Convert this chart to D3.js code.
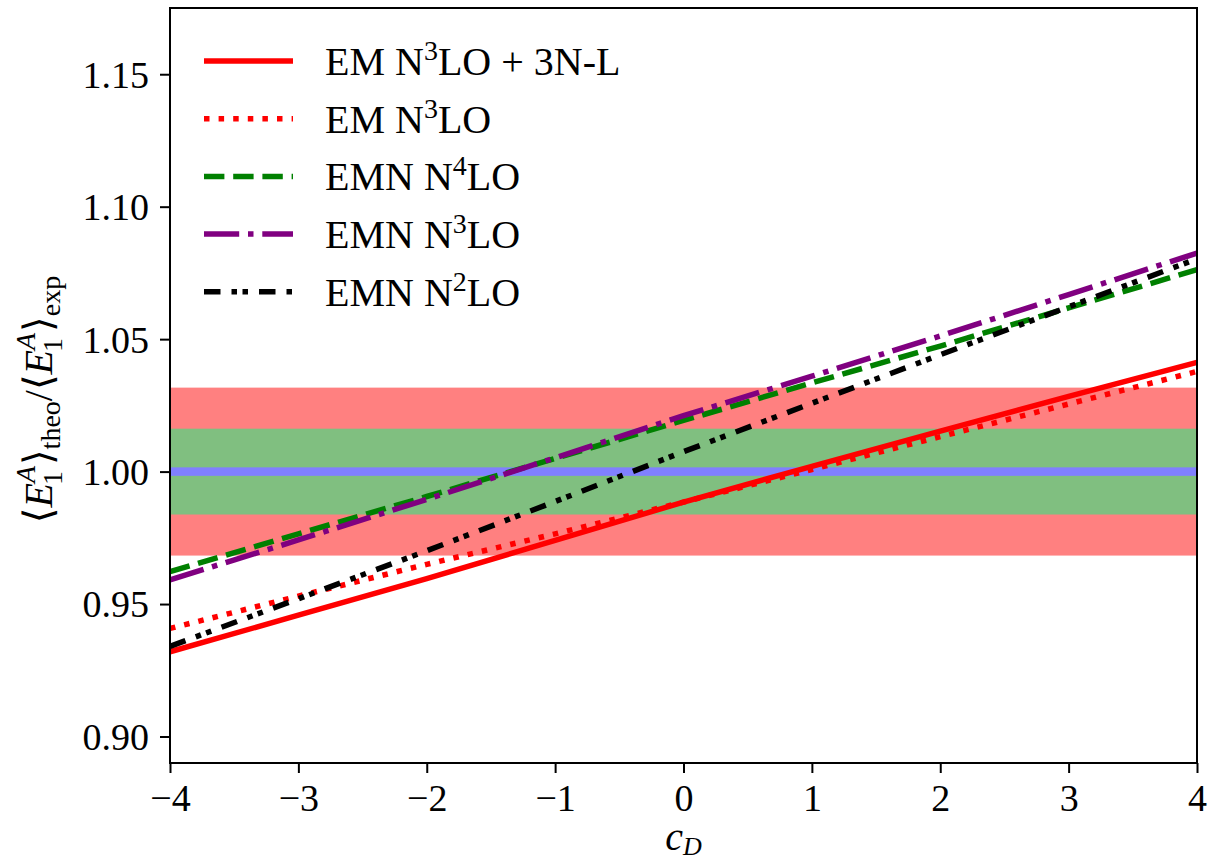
<!DOCTYPE html>
<html>
<head>
<meta charset="utf-8">
<script src="https://cdn.jsdelivr.net/npm/d3@7"></script>
<style>
  html, body { margin: 0; padding: 0; background: #fff; }
  svg { display: block; }
  svg text { font-family: "Liberation Serif", "DejaVu Serif", "Noto Serif", serif; fill: #000; }
</style>
</head>
<body>
<script>
// ---- data ----
const cD = [-4, -3, -2, -1, 0, 1, 2, 3, 4];
const emN3LO_3NL = [0.9320, 0.9458, 0.9596, 0.9740, 0.9885, 1.0020, 1.0153, 1.0284, 1.0412];
const emN3LO     = [0.9408, 0.9530, 0.9650, 0.9765, 0.9885, 1.0008, 1.0132, 1.0255, 1.0378];
const emnN4LO    = [0.9622, 0.9765, 0.9906, 1.0050, 1.0193, 1.0335, 1.0474, 1.0618, 1.0762];
const emnN3LO    = [0.9591, 0.9742, 0.9895, 1.0052, 1.0211, 1.0360, 1.0512, 1.0668, 1.0825];
const emnN2LO    = [0.9340, 0.9520, 0.9701, 0.9887, 1.0075, 1.0258, 1.0441, 1.0622, 1.0803];
const seriesNames = [["EM N", "3", "LO + 3N-L"], ["EM N", "3", "LO"], ["EMN N", "4", "LO"], ["EMN N", "3", "LO"], ["EMN N", "2", "LO"]];
const seriesColors = ["#ff0000", "#ff0000", "#008000", "#800080", "#000000"];
const seriesDashes = [null, "5.5,9.1", "20.4,8.8", "35.2,8.8,5.5,8.8", "16.5,11,5.5,5.5,5.5,11"];
const bandHalfWidths = [0.0317, 0.0162, 0.0016];
const bandColors = ["#ff8080", "#80bf80", "#8080ff"];
const xTicks = [-4, -3, -2, -1, 0, 1, 2, 3, 4];
const yTicks = [0.90, 0.95, 1.00, 1.05, 1.10, 1.15];

const allSeries = [emN3LO_3NL, emN3LO, emnN4LO, emnN3LO, emnN2LO];

// ---- layout ----
const W = 1208, H = 861;
const L = 170, R = 1197, T = 8, B = 763;
const FONT = '"Liberation Serif", "DejaVu Serif", "Noto Serif", serif';

const svg = d3.select("body").append("svg").attr("width", W).attr("height", H)
  .attr("font-family", FONT);

const x = d3.scaleLinear().domain([-4, 4]).range([L, R]);
const y = d3.scaleLinear().domain([0.89, 1.175]).range([B, T]);

// bands
bandHalfWidths.forEach((hw, i) => {
  svg.append("rect")
    .attr("x", L).attr("width", R - L)
    .attr("y", y(1 + hw)).attr("height", y(1 - hw) - y(1 + hw))
    .attr("fill", bandColors[i]);
});

// lines
const line = d3.line().x((d, i) => x(cD[i])).y(d => y(d));
allSeries.forEach((s, i) => {
  svg.append("path")
    .datum(s)
    .attr("d", line)
    .attr("fill", "none")
    .attr("stroke", seriesColors[i])
    .attr("stroke-width", 5.5)
    .attr("stroke-linecap", "butt")
    .attr("stroke-dasharray", seriesDashes[i]);
});

// axes
const fmtX = d3.format("d");
const xAxis = svg.append("g").attr("transform", `translate(0,${B})`)
  .call(d3.axisBottom(x).tickValues(xTicks).tickSize(10).tickPadding(8).tickFormat(d => fmtX(d)));
const yAxis = svg.append("g").attr("transform", `translate(${L},0)`)
  .call(d3.axisLeft(y).tickValues(yTicks).tickSize(10).tickPadding(11).tickFormat(d3.format(".2f")));
[xAxis, yAxis].forEach(g => {
  g.attr("font-family", FONT).attr("font-size", 38);
  g.select(".domain").remove();
  g.selectAll(".tick line").attr("stroke", "#000").attr("stroke-width", 2);
  g.selectAll(".tick text").attr("font-family", FONT).style("font-family", FONT).style("font-size", "38px").attr("fill", "#000");
});
xAxis.selectAll(".tick text").attr("dy", null).attr("y", 48);
yAxis.selectAll(".tick text").attr("dy", "0.34em");

// frame
svg.append("rect").attr("x", L).attr("y", T).attr("width", R - L).attr("height", B - T)
  .attr("fill", "none").attr("stroke", "#000").attr("stroke-width", 2);

// legend
const legY0 = 61, legDY = 57.7;
seriesNames.forEach((parts, i) => {
  const ly = legY0 + i * legDY;
  svg.append("line")
    .attr("x1", 204).attr("x2", 293).attr("y1", ly).attr("y2", ly)
    .attr("stroke", seriesColors[i]).attr("stroke-width", 5.5)
    .attr("stroke-dasharray", seriesDashes[i]);
  const t = svg.append("text").attr("x", 325).attr("y", ly + 14).style("font-size", "40px");
  t.append("tspan").text(parts[0]);
  t.append("tspan").attr("dy", -15).style("font-size", "28px").text(parts[1]);
  t.append("tspan").attr("dy", 15).text(parts[2]);
});

// x label
const xl = svg.append("text").attr("x", x(0)).attr("y", 850).attr("text-anchor", "middle").style("font-size", "40px");
xl.append("tspan").style("font-style", "italic").text("c");
xl.append("tspan").attr("dy", 5).style("font-style", "italic").style("font-size", "26px").text("D");

// y label
const yl = svg.append("text").attr("transform", `translate(52,${(T + B) / 2 + 14}) rotate(-90)`)
  .attr("text-anchor", "middle").style("font-size", "40px");
function addE(sel) {
  sel.append("tspan").text("\u27E8");
  sel.append("tspan").style("font-style", "italic").text("E");
  sel.append("tspan").attr("dy", -17).style("font-style", "italic").style("font-size", "28px").text("A");
  sel.append("tspan").attr("dx", -19).attr("dy", 27).style("font-size", "28px").text("1");
  sel.append("tspan").attr("dx", 6).attr("dy", -10).text("\u27E9");
}
addE(yl);
yl.append("tspan").attr("dy", 8).style("font-size", "28px").text("theo");
yl.append("tspan").attr("dy", -8).text("/");
addE(yl);
yl.append("tspan").attr("dy", 8).style("font-size", "28px").text("exp");
</script>
</body>
</html>
